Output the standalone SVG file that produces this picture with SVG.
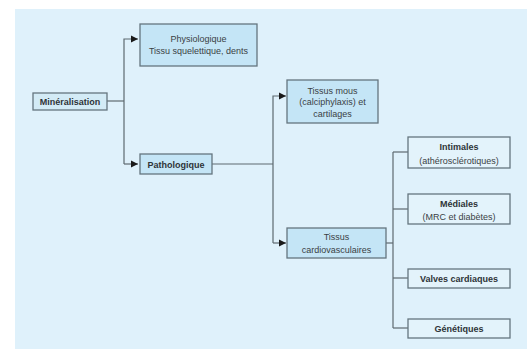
<svg xmlns="http://www.w3.org/2000/svg" width="531" height="349" viewBox="0 0 531 349">
<defs>
<marker id="arr" markerWidth="8" markerHeight="8" refX="7" refY="4" orient="auto" markerUnits="userSpaceOnUse">
<path d="M0,0.5 L7,4 L0,7.5 Z" fill="#1a1a1a"/>
</marker>
</defs>
<style>
.bg{fill:#dff1fb}
.box{fill:#c4e5f6;stroke:#65767f;stroke-width:1.3}
.box2{fill:#d3ebf6;stroke:#65767f;stroke-width:1.3}
.box3{fill:#e3f3fb;stroke:#65767f;stroke-width:1.3}
text{font-family:"Liberation Sans",Arial,sans-serif;font-size:9px;fill:#3a3f44;text-anchor:middle}
.b{font-weight:bold;fill:#2e3338}
.c{fill:none;stroke:#5e6a70;stroke-width:1.2}
</style>
<rect x="0" y="0" width="531" height="349" fill="#ffffff"/>
<rect class="bg" x="15" y="9" width="512" height="340"/>
<g id="connectors">
<path class="c" d="M107,101 H124"/>
<path class="c" d="M124,164 V39 H138" marker-end="url(#arr)"/>
<path class="c" d="M124,164 H138" marker-end="url(#arr)"/>
<path class="c" d="M212,164 H273"/>
<path class="c" d="M273,243 V96 H286" marker-end="url(#arr)"/>
<path class="c" d="M273,243 H286" marker-end="url(#arr)"/>
<path class="c" d="M386,243 H393"/>
<path class="c" d="M393,152 V328"/>
<path class="c" d="M393,152 H408"/>
<path class="c" d="M393,209 H408"/>
<path class="c" d="M393,278 H408"/>
<path class="c" d="M393,328 H408"/>
</g>
<g id="mineralisation">
<rect class="box2" x="33" y="93" width="74" height="17"/>
<text class="b" x="70" y="104.5">Minéralisation</text>
</g>
<g id="physiologique">
<rect class="box" x="140" y="24" width="117" height="42"/>
<text x="198.5" y="42">Physiologique</text>
<text x="198.5" y="53.5">Tissu squelettique, dents</text>
</g>
<g id="pathologique">
<rect class="box" x="140" y="154" width="72" height="20"/>
<text class="b" x="176" y="167.5">Pathologique</text>
</g>
<g id="tissus-mous">
<rect class="box" x="287" y="80" width="91" height="43"/>
<text x="332.5" y="93.5">Tissus mous</text>
<text x="332.5" y="105">(calciphylaxis) et</text>
<text x="332.5" y="116.5">cartilages</text>
</g>
<g id="tissus-cardio">
<rect class="box" x="287" y="228" width="99" height="30"/>
<text x="336.5" y="240">Tissus</text>
<text x="336.5" y="253">cardiovasculaires</text>
</g>
<g id="intimales">
<rect class="box3" x="408" y="137" width="102" height="31"/>
<text class="b" x="459" y="150">Intimales</text>
<text x="459" y="163.5">(athérosclérotiques)</text>
</g>
<g id="mediales">
<rect class="box3" x="408" y="194" width="102" height="30"/>
<text class="b" x="459" y="206.5">Médiales</text>
<text x="459" y="219.5">(MRC et diabètes)</text>
</g>
<g id="valves">
<rect class="box3" x="408" y="269" width="102" height="19"/>
<text class="b" x="459" y="281.5">Valves cardiaques</text>
</g>
<g id="genetiques">
<rect class="box3" x="408" y="319" width="102" height="19"/>
<text class="b" x="459" y="331.5">Génétiques</text>
</g>
</svg>
